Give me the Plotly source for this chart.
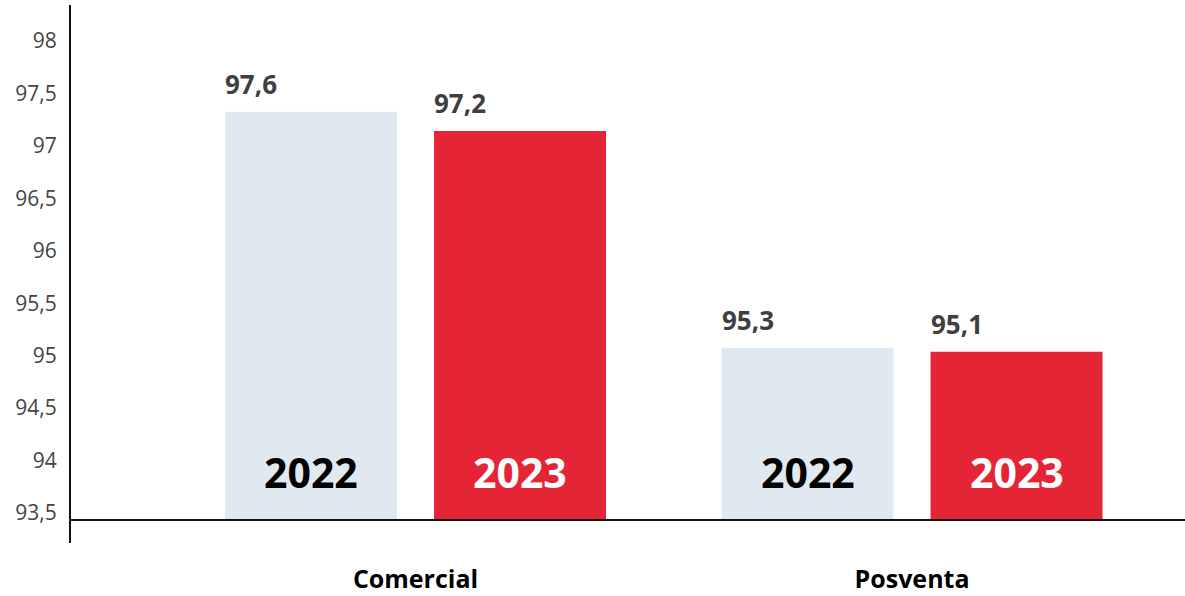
import plotly.graph_objects as go

categories = ["Comercial", "Posventa"]
years = ["2022", "2023"]
values_2022 = [97.326, 95.076]
values_2023 = [97.142, 95.038]
labels_2022 = ["97,6", "95,3"]
labels_2023 = ["97,2", "95,1"]
y_ticks = [93.5, 94, 94.5, 95, 95.5, 96, 96.5, 97, 97.5, 98]

BASELINE = 93.434
BAR_W = 0.3464
OFFSET = 0.2105
colors = ["#E1E9F0", "#E42535"]
year_font_colors = ["#000000", "#FFFFFF"]

fig = go.Figure()
series = [values_2022, values_2023]
labels = [labels_2022, labels_2023]
annotations = []
for k, (yr, vals, labs) in enumerate(zip(years, series, labels)):
    off = -OFFSET if k == 0 else OFFSET
    xs = [i + off for i in range(len(categories))]
    fig.add_trace(go.Bar(
        x=xs, y=[v - BASELINE for v in vals], base=BASELINE, width=BAR_W,
        marker=dict(color=colors[k], line=dict(width=0)), name=yr,
        hoverinfo="skip", showlegend=False,
    ))
    for x, v, lab in zip(xs, vals, labs):
        annotations.append(dict(
            x=x - BAR_W / 2, y=v, xref="x", yref="y", text=lab, showarrow=False,
            xanchor="left", yanchor="bottom", yshift=8, xshift=-2,
            font=dict(family="Open Sans", size=26, color="#3F3F3F", weight="bold"),
        ))
        annotations.append(dict(
            x=x, y=BASELINE, xref="x", yref="y", text=yr, showarrow=False,
            xanchor="center", yanchor="middle", yshift=48,
            font=dict(family="Open Sans", size=41, color=year_font_colors[k], weight="bold"),
        ))

fig.add_shape(type="line", xref="paper", yref="y", x0=0, x1=1, y0=BASELINE, y1=BASELINE,
              line=dict(color="#111111", width=2))

fig.update_layout(
    width=1185, height=596,
    margin=dict(l=71, r=0, t=5, b=53),
    paper_bgcolor="white", plot_bgcolor="white",
    separators=", ",
    annotations=annotations,
    xaxis=dict(
        range=[-0.6939, 1.5498], tickvals=list(range(len(categories))), ticktext=categories,
        showline=False, showgrid=False, zeroline=False, ticks="", automargin=False,
        tickfont=dict(family="Open Sans", size=25, color="#000000", weight="bold"),
        ticklabelstandoff=19,
    ),
    yaxis=dict(
        range=[93.214, 98.343], tickvals=y_ticks, tickformat=".1~f",
        showline=True, linecolor="#111111", linewidth=2, showgrid=False, zeroline=False,
        ticks="", ticklabelstandoff=8, automargin=False,
        tickfont=dict(family="Open Sans", size=21, color="#444444"),
    ),
)

fig.write_html("out.html", config={"displayModeBar": False},
               post_script="document.body.style.margin='0';document.body.style.overflow='hidden';")
